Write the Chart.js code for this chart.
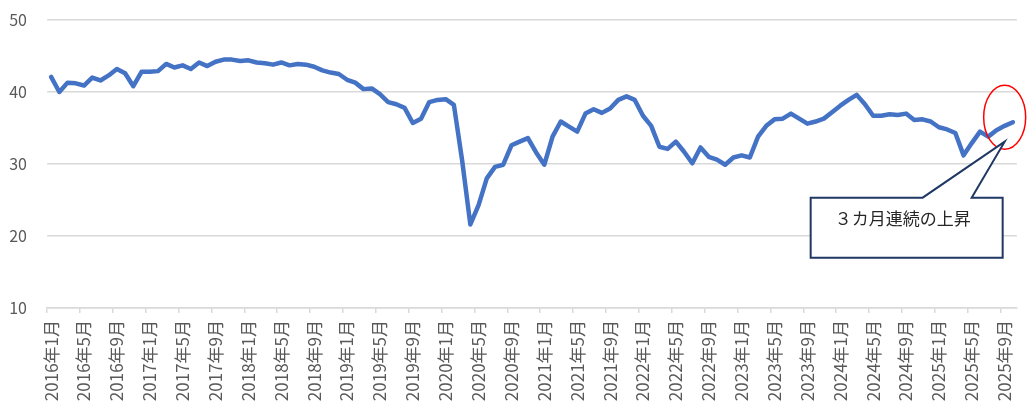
<!DOCTYPE html>
<html lang="ja">
<head>
<meta charset="utf-8">
<title>消費者態度指数</title>
<script src="https://cdn.jsdelivr.net/npm/chart.js@4.4.1/dist/chart.umd.min.js"></script>
<style>
  html, body { margin: 0; padding: 0; background: #fff; }
  #wrap { width: 1032px; height: 409px; }
</style>
</head>
<body>
<div id="wrap"><canvas id="chartIndex" width="1032" height="409"></canvas></div>
<script>
// 月次の指数 (2016年1月〜2025年10月)
const years = [2016, 2017, 2018, 2019, 2020, 2021, 2022, 2023, 2024, 2025];
const v2016 = [42.1, 40.0, 41.3, 41.2, 40.9, 42.0, 41.6, 42.3, 43.2, 42.6, 40.8, 42.8];
const v2017 = [42.8, 42.9, 43.9, 43.4, 43.7, 43.2, 44.1, 43.6, 44.2, 44.5, 44.5, 44.3];
const v2018 = [44.4, 44.1, 44.0, 43.8, 44.1, 43.7, 43.9, 43.8, 43.5, 43.0, 42.7, 42.5];
const v2019 = [41.7, 41.3, 40.4, 40.5, 39.7, 38.6, 38.3, 37.8, 35.7, 36.3, 38.6, 38.9];
const v2020 = [39.0, 38.2, 30.5, 21.6, 24.3, 28.0, 29.6, 29.9, 32.6, 33.1, 33.6, 31.6];
const v2021 = [29.9, 33.8, 35.9, 35.2, 34.5, 37.0, 37.6, 37.1, 37.7, 38.9, 39.4, 38.9];
const v2022 = [36.7, 35.3, 32.4, 32.1, 33.1, 31.7, 30.1, 32.3, 31.0, 30.6, 29.9, 30.9];
const v2023 = [31.2, 30.9, 33.8, 35.3, 36.2, 36.3, 37.0, 36.3, 35.6, 35.9, 36.3, 37.2];
const v2024 = [38.1, 38.9, 39.6, 38.3, 36.7, 36.7, 36.9, 36.8, 37.0, 36.1, 36.2, 35.9];
const v2025 = [35.1, 34.8, 34.3, 31.2, 32.9, 34.5, 33.8, 34.7, 35.3, 35.8];

const values = [].concat(v2016, v2017, v2018, v2019, v2020, v2021, v2022, v2023, v2024, v2025);

const labels = [];
years.forEach(y => {
    for (let m = 1; m <= 12 && labels.length < values.length; m++) {
        labels.push(y + '年' + m + '月');
    }
});

const yMin = 10, yMax = 50, yStep = 10;
const labelEvery = 4;
const calloutText = '３カ月連続の上昇';

const gridGrey = '#d9d9d9';
const textGrey = '#595959';
const fontFamily = '"Noto Sans CJK JP", "Noto Sans", sans-serif';

// 赤い楕円と吹き出し
const calloutPlugin = {
    id: 'callout',
    afterDatasetsDraw(chart) {
        const { ctx, scales: { x, y } } = chart;
        const idx = values.length - 2;
        const cx = x.getPixelForValue(idx);
        const cy = y.getPixelForValue(36.5);

        ctx.save();
        ctx.beginPath();
        ctx.ellipse(cx, cy, 21, 32, 0, 0, Math.PI * 2);
        ctx.strokeStyle = '#ff0000';
        ctx.lineWidth = 1.5;
        ctx.stroke();

        const tipX = cx, tipY = y.getPixelForValue(33.1);
        const left = tipX - 194, right = tipX - 2;
        const top = tipY + 56, bottom = tipY + 116;
        ctx.beginPath();
        ctx.moveTo(left, top);
        ctx.lineTo(tipX - 82, top);
        ctx.lineTo(tipX, tipY);
        ctx.lineTo(tipX - 33, top);
        ctx.lineTo(right, top);
        ctx.lineTo(right, bottom);
        ctx.lineTo(left, bottom);
        ctx.closePath();
        ctx.fillStyle = '#ffffff';
        ctx.fill();
        ctx.strokeStyle = '#1f3864';
        ctx.lineWidth = 2;
        ctx.stroke();

        ctx.fillStyle = '#262626';
        ctx.font = '17px ' + fontFamily;
        ctx.textAlign = 'center';
        ctx.textBaseline = 'middle';
        ctx.fillText(calloutText, (left + right) / 2 - 4, top + 21);
        ctx.restore();
    }
};

const ctxIdx = document.getElementById('chartIndex');
new Chart(ctxIdx, {
    type: 'line',
    data: {
        labels: labels,
        datasets: [{
            data: values,
            borderColor: '#4472c4',
            borderWidth: 4.5,
            borderJoinStyle: 'round',
            borderCapStyle: 'round',
            pointRadius: 0,
            tension: 0,
            fill: false
        }]
    },
    options: {
        responsive: false,
        animation: false,
        layout: { padding: { top: 20, right: 15, left: 0, bottom: 0 } },
        plugins: { legend: { display: false }, tooltip: { enabled: false } },
        scales: {
            x: {
                offset: true,
                afterFit: (axis) => {
                    axis.height = 101;
                    axis.paddingLeft = 0;
                    axis.paddingRight = 0;
                },
                grid: {
                    offset: true,
                    drawOnChartArea: false,
                    drawTicks: true,
                    tickLength: 5,
                    lineWidth: 1.5,
                    color: (c) => (c.index % labelEvery === 0 ? gridGrey : 'rgba(0,0,0,0)')
                },
                border: { display: true, color: gridGrey, width: 1.5 },
                ticks: {
                    autoSkip: false,
                    minRotation: 90,
                    maxRotation: 90,
                    padding: 7,
                    color: textGrey,
                    font: { family: fontFamily, size: 17 },
                    callback: (val, i) => (i % labelEvery === 0 ? labels[i] : '')
                }
            },
            y: {
                min: yMin,
                max: yMax,
                afterFit: (axis) => {
                    axis.width = 47;
                    axis.paddingTop = 0;
                    axis.paddingBottom = 0;
                },
                grid: { color: gridGrey, lineWidth: 1.5, drawTicks: false },
                border: { display: false },
                ticks: {
                    stepSize: yStep,
                    padding: 20,
                    color: textGrey,
                    font: { family: fontFamily, size: 16 }
                }
            }
        }
    },
    plugins: [calloutPlugin]
});
</script>
</body>
</html>
